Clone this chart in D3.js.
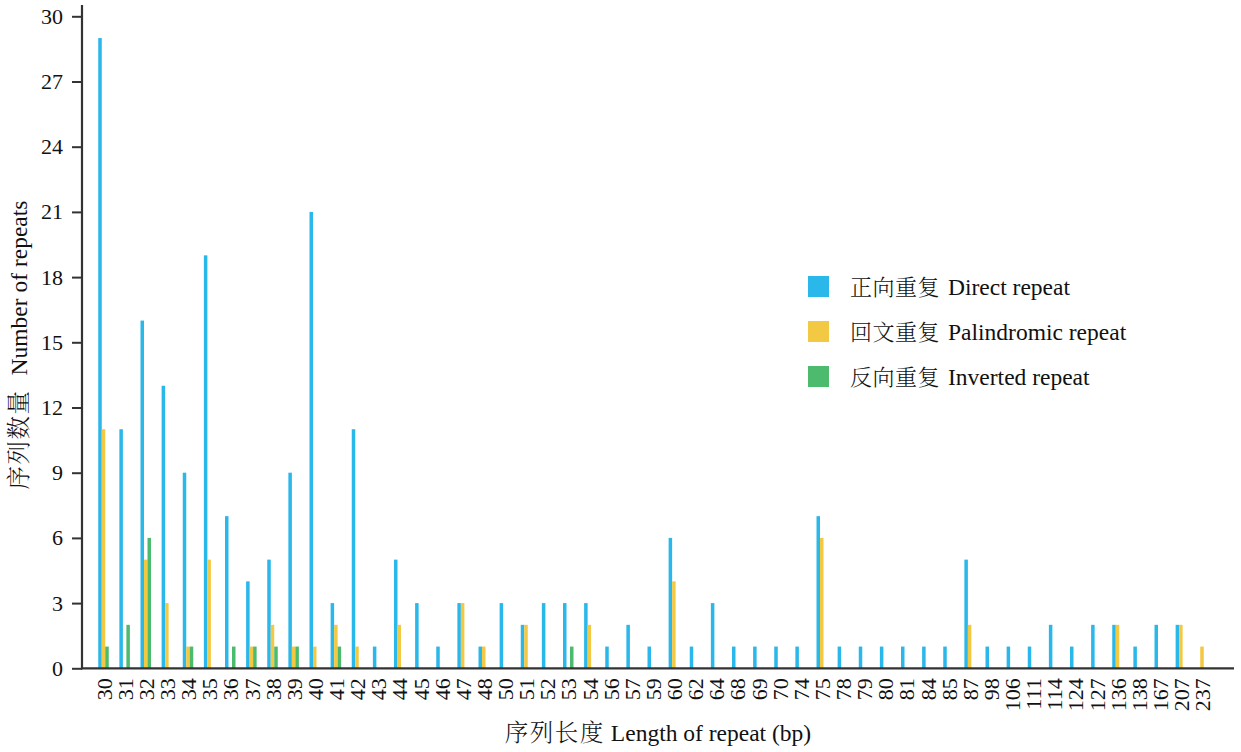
<!DOCTYPE html>
<html><head><meta charset="utf-8">
<script src="https://cdn.jsdelivr.net/npm/d3@7"></script>
<style>
body{margin:0;background:#fff;}
text{font-family:"Liberation Serif","Times New Roman","Noto Serif CJK SC","Noto Sans CJK SC",serif;fill:#111;}
.cjk{font-family:"Noto Serif CJK SC","Noto Sans CJK SC",serif;font-weight:300;letter-spacing:1.5px;}
.lg .cjk{letter-spacing:0.5px;font-size:22px;}
</style></head>
<body><svg id="c" width="1241" height="752"></svg>
<script>
const categories = ["30","31","32","33","34","35","36","37","38","39","40","41","42","43","44","45","46","47","48","50","51","52","53","54","56","57","59","60","62","64","68","69","70","74","75","78","79","80","81","84","85","87","98","106","111","114","124","127","136","138","167","207","237"];
const direct = [29,11,16,13,9,19,7,4,5,9,21,3,11,1,5,3,1,3,1,3,2,3,3,3,1,2,1,6,1,3,1,1,1,1,7,1,1,1,1,1,1,5,1,1,1,2,1,2,2,1,2,2,0];
const palindromic = [11,0,5,3,1,5,0,1,2,1,1,2,1,0,2,0,0,3,1,0,2,0,0,2,0,0,0,4,0,0,0,0,0,0,6,0,0,0,0,0,0,2,0,0,0,0,0,0,2,0,0,2,1];
const inverted = [1,2,6,0,1,0,1,1,1,1,0,1,0,0,0,0,0,0,0,0,0,0,1,0,0,0,0,0,0,0,0,0,0,0,0,0,0,0,0,0,0,0,0,0,0,0,0,0,0,0,0,0,0];
const seriesNamesZh = ["正向重复","回文重复","反向重复"];
const seriesNamesEn = ["Direct repeat","Palindromic repeat","Inverted repeat"];
const colors = ["#2ab7e9","#f3c843","#4dbb6d"];
const yTicks = [0,3,6,9,12,15,18,21,24,27,30];

const svg = d3.select("#c");
const axisX0 = 82, axisX1 = 1234, y0 = 668.3, yTop = 5;
const x = d3.scalePoint().domain(categories).range([103.5, 1202]);
const y = d3.scaleLinear().domain([0,30]).range([y0, 16.3]);
const bw = 3.5;
const series = [direct, palindromic, inverted];

series.forEach((vals, s) => {
  svg.append("g").selectAll("rect")
    .data(vals.map((v,i)=>({c:categories[i], v})).filter(d=>d.v>0))
    .join("rect")
    .attr("x", d => x(d.c) + (s-1)*bw - bw/2)
    .attr("width", bw)
    .attr("y", d => y(d.v))
    .attr("height", d => y0 - y(d.v))
    .attr("fill", colors[s]);
});

// y axis
const ya = svg.append("g").attr("transform", `translate(${axisX0},0)`)
  .call(d3.axisLeft(y).tickValues(yTicks).tickSize(10).tickPadding(9));
ya.select(".domain").remove();
ya.selectAll(".tick line").attr("stroke","#333").attr("stroke-width",2);
ya.selectAll(".tick text").style("font-size","22px").attr("fill","#111");
svg.append("line").attr("x1",axisX0).attr("x2",axisX0).attr("y1",yTop).attr("y2",y0+1)
  .attr("stroke","#333").attr("stroke-width",2.2);

// x axis
const xa = svg.append("g").attr("transform", `translate(0,${y0})`)
  .call(d3.axisBottom(x).tickSize(0).tickPadding(0));
xa.select(".domain").remove();
xa.selectAll(".tick text")
  .style("font-size","22px").attr("fill","#111")
  .attr("text-anchor","end")
  .attr("transform","rotate(-90)")
  .attr("x",-10).attr("y",0).attr("dy","0.35em");
svg.append("line").attr("x1",axisX0-1).attr("x2",axisX1).attr("y1",y0).attr("y2",y0)
  .attr("stroke","#333").attr("stroke-width",2.2);

function mixed(sel, zh, en, gap){
  sel.append("tspan").attr("class","cjk").text(zh);
  sel.append("tspan").attr("dx", gap).text(en);
}
// axis titles
const xt = svg.append("text").attr("x",658).attr("y",741).attr("text-anchor","middle")
  .style("font-size","23.5px");
mixed(xt, "序列长度", "Length of repeat (bp)", 6);
const yt = svg.append("text").attr("transform","translate(27,345) rotate(-90)").attr("text-anchor","middle")
  .style("font-size","23.5px");
mixed(yt, "序列数量", "Number of repeats", 14);

// legend
const lg = svg.append("g").attr("class","lg");
seriesNamesZh.forEach((n,i)=>{
  const cy = 287 + i*45;
  lg.append("rect").attr("x",808).attr("y",cy-11).attr("width",21).attr("height",21).attr("fill",colors[i]);
  const t = lg.append("text").attr("x",850).attr("y",cy).attr("dy","0.35em").style("font-size","23.5px");
  mixed(t, n, seriesNamesEn[i], 8);
});
</script></body></html>
